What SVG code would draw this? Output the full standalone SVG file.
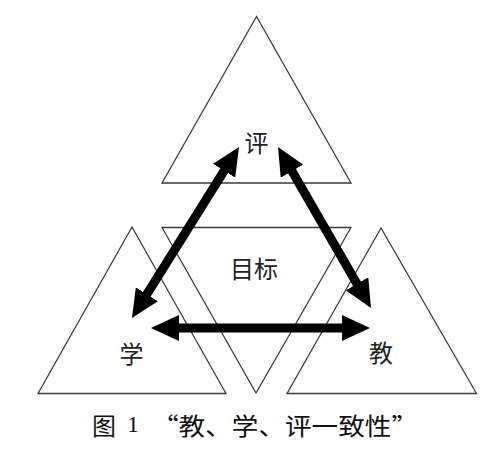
<svg xmlns="http://www.w3.org/2000/svg" width="500" height="450" viewBox="0 0 500 450">
  <style>
    .tri { fill: none; stroke: #3a3a3a; stroke-width: 1.3; stroke-linejoin: miter; }
    .lbl { font-family: "Noto Sans CJK SC", "DejaVu Sans", sans-serif; font-size: 24px; fill: #222; text-anchor: middle; dominant-baseline: central; }
    .cap { font-family: "Liberation Serif", "Noto Sans CJK SC", serif; font-size: 24px; fill: #111; dominant-baseline: central; }
    .capcjk { font-family: "Noto Sans CJK SC", sans-serif; font-size: 24px; fill: #111; dominant-baseline: central; }
    .arr { stroke: #000; stroke-width: 9; fill: none; marker-start: url(#head); marker-end: url(#head); }
  </style>
  <defs>
    <marker id="head" markerUnits="userSpaceOnUse" markerWidth="28" markerHeight="26" refX="14" refY="13" orient="auto-start-reverse">
      <path d="M0,0 L28,13 L0,26 z" fill="#000"/>
    </marker>
  </defs>
  <rect width="500" height="450" fill="#fff"/>

  <g id="node-ping">
    <polygon class="tri" points="256.5,16.5 162,183 351,183"/>
    <text class="lbl" x="256.5" y="141.5">评</text>
  </g>
  <g id="node-mubiao">
    <polygon class="tri" points="162,227.5 351,227.5 256,393"/>
    <text class="lbl" x="254" y="267">目标</text>
  </g>
  <g id="node-xue">
    <polygon class="tri" points="132,227 38,393.5 226,393.5"/>
    <text class="lbl" x="131.5" y="352.5">学</text>
  </g>
  <g id="node-jiao">
    <polygon class="tri" points="381,228 287,393.5 476.5,393.5"/>
    <text class="lbl" x="381" y="351.5">教</text>
  </g>

  <g id="connectors">
    <line class="arr" x1="231.6" y1="158.9" x2="139.4" y2="306.1"/>
    <line class="arr" x1="285" y1="159.1" x2="364" y2="295.9"/>
    <line class="arr" x1="165" y1="328" x2="356" y2="328"/>
  </g>

  <g id="caption">
    <text class="capcjk" x="92" y="424">图</text>
    <text class="cap" x="127" y="424">1</text>
    <text class="capcjk" x="152" y="424" textLength="266" lengthAdjust="spacingAndGlyphs">“教、学、评一致性”</text>
  </g>
</svg>
